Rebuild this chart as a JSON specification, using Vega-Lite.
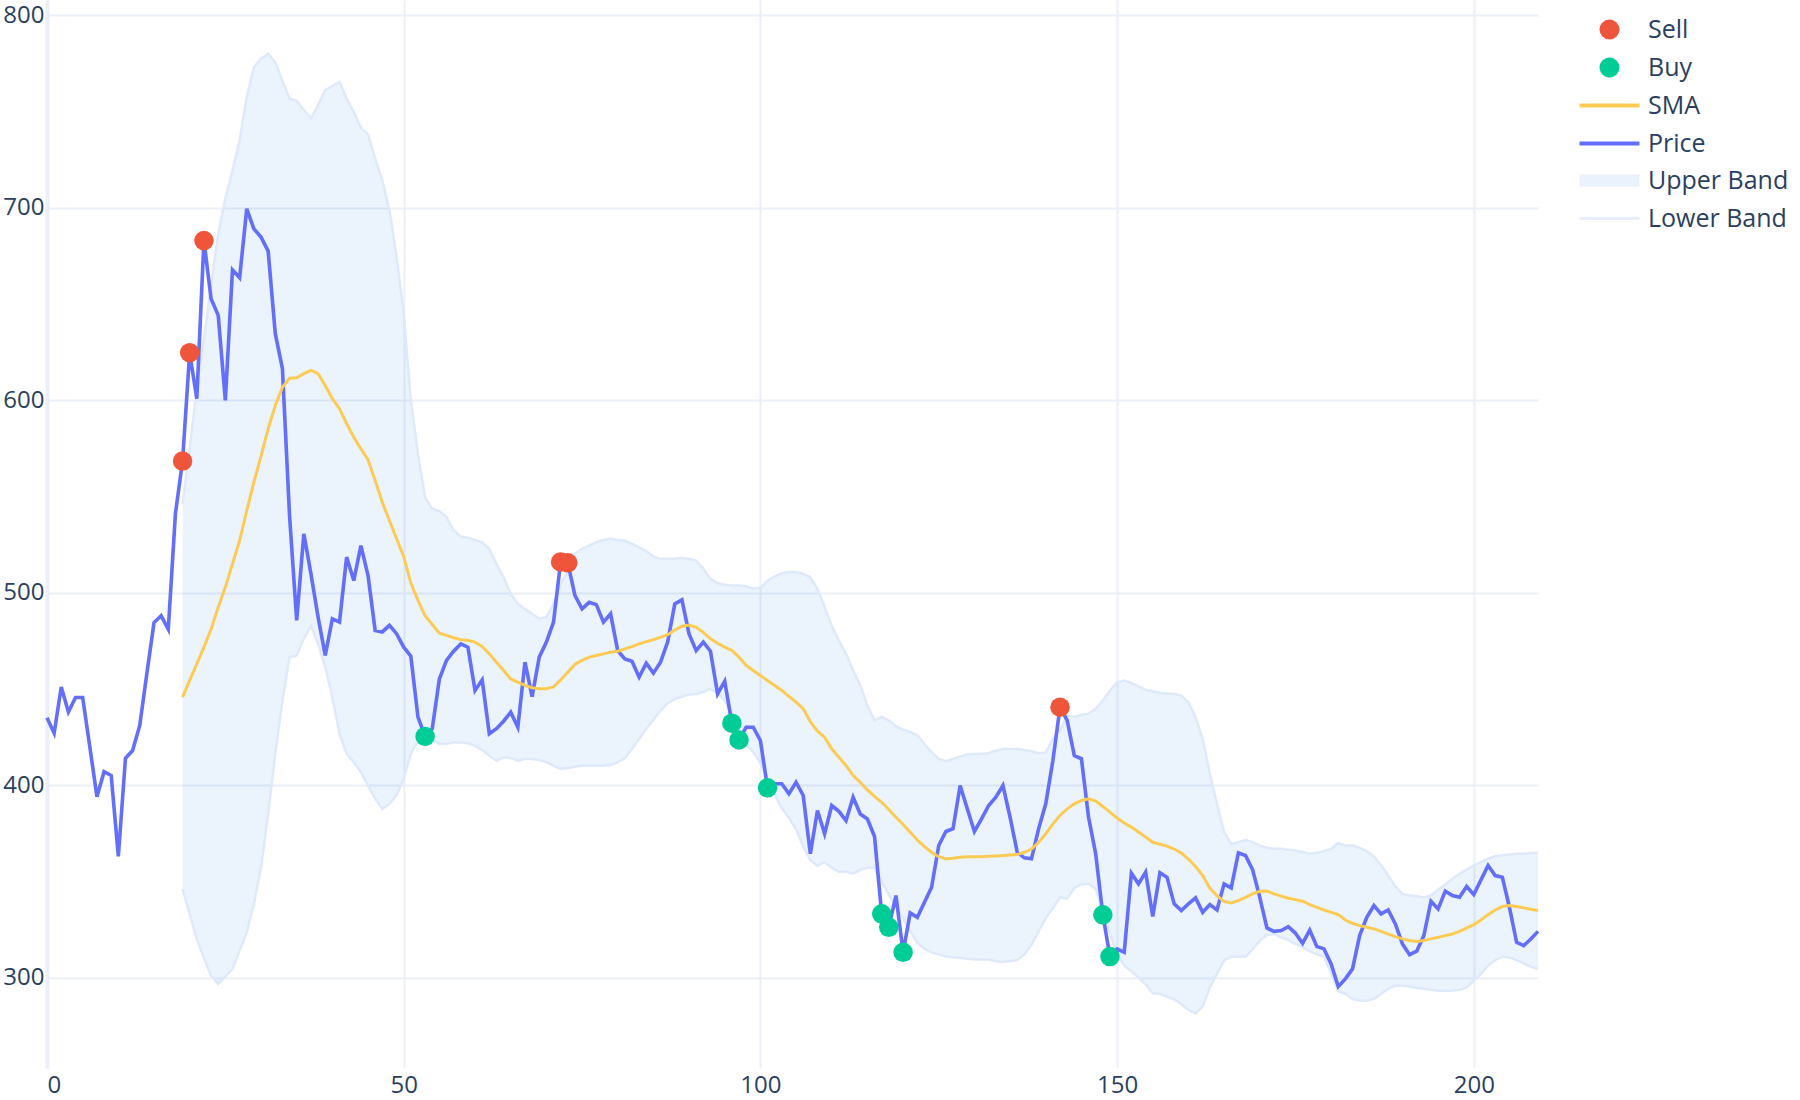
{
"$schema": "https://vega.github.io/schema/vega-lite/v6.json",
"width": 1491, "height": 1068,
"autosize": {"type": "none"},
"padding": {"left": 47, "top": 0, "right": 262, "bottom": 32},
"background": "white",
"config": {"view": {"stroke": null}, "font": "Open Sans",
 "axis": {"labelFont": "Open Sans", "labelFontSize": 24, "labelColor": "#2a3f5f", "gridColor": "#EBF0F8", "gridWidth": 2, "ticks": false, "title": null}},
"data": {"values": [
{"x":0,"price":435},{"x":1,"price":427},{"x":2,"price":451},{"x":3,"price":438},{"x":4,"price":445.5},{"x":5,"price":445.5},{"x":6,"price":420},{"x":7,"price":394},{"x":8,"price":407},{"x":9,"price":405},{"x":10,"price":363},{"x":11,"price":414},{"x":12,"price":418},{"x":13,"price":431},{"x":14,"price":458},{"x":15,"price":484.5},{"x":16,"price":488},{"x":17,"price":481},{"x":18,"price":541},
{"x":19,"price":568.4,"sma":445.7,"upper":546,"lower":346,"signal":"Sell"},
{"x":20,"price":624.7,"sma":454.4,"upper":575,"lower":333,"signal":"Sell"},
{"x":21,"price":600.8,"sma":463,"upper":606,"lower":320},
{"x":22,"price":683,"sma":471.7,"upper":632,"lower":310,"signal":"Sell"},
{"x":23,"price":652.8,"sma":481,"upper":660,"lower":301},
{"x":24,"price":644.1,"sma":492.5,"upper":686.5,"lower":296.7},
{"x":25,"price":599.9,"sma":502.9,"upper":704.7,"lower":300.5},
{"x":26,"price":667.8,"sma":515,"upper":719.4,"lower":304.5},
{"x":27,"price":663.7,"sma":527.1,"upper":735,"lower":314},
{"x":28,"price":699.5,"sma":542.7,"upper":757.5,"lower":323.6},
{"x":29,"price":689.1,"sma":557.4,"upper":773.1,"lower":338.3},
{"x":30,"price":684.8,"sma":571,"upper":777.5,"lower":357.3},
{"x":31,"price":677.5,"sma":585.2,"upper":780.1,"lower":385},
{"x":32,"price":634.6,"sma":597.3,"upper":775.7,"lower":416.3},
{"x":33,"price":616.4,"sma":606.8,"upper":766,"lower":444},
{"x":34,"price":540,"sma":611.5,"upper":756.7,"lower":466.5},
{"x":35,"price":485.6,"sma":611.7,"upper":755.6,"lower":467.4},
{"x":36,"price":530.6,"sma":613.8,"upper":750.8,"lower":476},
{"x":37,"price":509.8,"sma":615.5,"upper":746.5,"lower":482.9},
{"x":38,"price":487.3,"sma":613.8,"upper":753.4,"lower":473.4},
{"x":39,"price":467.4,"sma":607.7,"upper":761.2,"lower":461.3},
{"x":40,"price":486.4,"sma":600.8,"upper":763.3,"lower":445.7},
{"x":41,"price":484.7,"sma":595.6,"upper":765.5,"lower":426.7},
{"x":42,"price":518.5,"sma":587.8,"upper":756.7,"lower":416.3},
{"x":43,"price":506.3,"sma":580.8,"upper":749.8,"lower":411.9},
{"x":44,"price":524.5,"sma":574.8,"upper":741.6,"lower":406.7},
{"x":45,"price":508.9,"sma":569.1,"upper":738.2,"lower":399.8},
{"x":46,"price":480.4,"sma":558.3,"upper":725.5,"lower":392.9},
{"x":47,"price":479.6,"sma":547,"upper":714.3,"lower":387.7},
{"x":48,"price":483,"sma":537.5,"upper":698.7,"lower":390.3},
{"x":49,"price":478.7,"sma":528,"upper":674.5,"lower":394.7},
{"x":50,"price":471.7,"sma":518.8,"upper":645,"lower":403.3},
{"x":51,"price":467,"sma":505,"upper":600,"lower":416.3},
{"x":52,"price":435.3,"sma":496,"upper":572,"lower":423},
{"x":53,"price":425.3,"sma":488,"upper":549.5,"lower":426.9,"signal":"Buy"},
{"x":54,"price":429.3,"sma":483.5,"upper":543.6,"lower":423.5},
{"x":55,"price":455.2,"sma":479,"upper":542.4,"lower":421.4},
{"x":56,"price":464.8,"sma":477.8,"upper":539.3,"lower":421.4},
{"x":57,"price":469.6,"sma":476.6,"upper":532.3,"lower":422.2},
{"x":58,"price":473.4,"sma":475.6,"upper":529.2,"lower":422.2},
{"x":59,"price":471.7,"sma":475.2,"upper":528.5,"lower":421.7},
{"x":60,"price":449.2,"sma":474.3,"upper":527.4,"lower":420.5},
{"x":61,"price":454.7,"sma":472,"upper":526.2,"lower":418.2},
{"x":62,"price":426.7,"sma":468.2,"upper":522.8,"lower":415.3},
{"x":63,"price":429.3,"sma":463.9,"upper":515,"lower":412.7},
{"x":64,"price":433.2,"sma":459.6,"upper":508,"lower":414.4},
{"x":65,"price":437.9,"sma":455.2,"upper":499.4,"lower":414.1},
{"x":66,"price":430.1,"sma":453.5,"upper":494.2,"lower":412.7},
{"x":67,"price":463.9,"sma":451.8,"upper":491.6,"lower":413.6},
{"x":68,"price":446,"sma":450.6,"upper":489,"lower":413.6},
{"x":69,"price":466.5,"sma":450.1,"upper":486.5,"lower":413.1},
{"x":70,"price":474.3,"sma":450.1,"upper":487.3,"lower":411.9},
{"x":71,"price":484.7,"sma":451,"upper":494.2,"lower":410.1},
{"x":72,"price":516,"sma":454.7,"upper":504.6,"lower":408.4,"signal":"Sell"},
{"x":73,"price":515.5,"sma":458.7,"upper":511,"lower":408.9,"signal":"Sell"},
{"x":74,"price":498.6,"sma":462.7,"upper":520.2,"lower":409.6},
{"x":75,"price":491.6,"sma":464.8,"upper":522.8,"lower":410.1},
{"x":76,"price":495,"sma":466.5,"upper":524.5,"lower":410.1},
{"x":77,"price":493.8,"sma":467.4,"upper":526.2,"lower":410.1},
{"x":78,"price":484.7,"sma":468.2,"upper":527.4,"lower":410.1},
{"x":79,"price":489,"sma":469.1,"upper":528,"lower":410.5},
{"x":80,"price":469.9,"sma":469.6,"upper":527.4,"lower":411.9},
{"x":81,"price":465.6,"sma":470.8,"upper":527,"lower":414.1},
{"x":82,"price":464.4,"sma":472,"upper":525.4,"lower":418.8},
{"x":83,"price":456.1,"sma":473.4,"upper":523.6,"lower":424},
{"x":84,"price":463.4,"sma":474.6,"upper":521.6,"lower":429.2},
{"x":85,"price":458.2,"sma":475.6,"upper":518.8,"lower":433.9},
{"x":86,"price":463.9,"sma":476.8,"upper":517.6,"lower":438.7},
{"x":87,"price":474.3,"sma":478.2,"upper":517.6,"lower":442.5},
{"x":88,"price":494.2,"sma":480.6,"upper":517.6,"lower":444.8},
{"x":89,"price":496.3,"sma":482.6,"upper":518,"lower":446},
{"x":90,"price":478.6,"sma":483.2,"upper":517.6,"lower":447.1},
{"x":91,"price":469.9,"sma":482,"upper":516.7,"lower":447.4},
{"x":92,"price":474.3,"sma":479.4,"upper":512.4,"lower":448.3},
{"x":93,"price":469.6,"sma":476,"upper":507.2,"lower":450},
{"x":94,"price":447.4,"sma":473.7,"upper":505,"lower":447.8},
{"x":95,"price":454,"sma":471.7,"upper":504.1,"lower":444},
{"x":96,"price":432.2,"sma":470,"upper":503.8,"lower":436.2,"signal":"Buy"},
{"x":97,"price":423.5,"sma":466.5,"upper":503.8,"lower":429.2,"signal":"Buy"},
{"x":98,"price":430.1,"sma":462.2,"upper":503.3,"lower":421.1},
{"x":99,"price":430.1,"sma":459.6,"upper":502,"lower":417.2},
{"x":100,"price":423.2,"sma":457,"upper":502.5,"lower":411.5},
{"x":101,"price":398.6,"sma":454.4,"upper":506.3,"lower":402.5,"signal":"Buy"},
{"x":102,"price":400.7,"sma":451.8,"upper":508.4,"lower":395},
{"x":103,"price":400.7,"sma":449.2,"upper":510.1,"lower":388},
{"x":104,"price":395.5,"sma":446.1,"upper":510.7,"lower":383},
{"x":105,"price":401.5,"sma":443.1,"upper":510.7,"lower":377},
{"x":106,"price":394.6,"sma":439.7,"upper":509.8,"lower":368},
{"x":107,"price":364.3,"sma":433,"upper":508,"lower":361},
{"x":108,"price":386.8,"sma":428,"upper":502,"lower":358},
{"x":109,"price":374.7,"sma":424.9,"upper":492.5,"lower":360},
{"x":110,"price":389.4,"sma":418.9,"upper":482.9,"lower":357},
{"x":111,"price":386.4,"sma":414.5,"upper":475.2,"lower":355},
{"x":112,"price":381.6,"sma":410.2,"upper":468.2,"lower":355},
{"x":113,"price":393.7,"sma":405,"upper":459.6,"lower":354},
{"x":114,"price":385,"sma":401.5,"upper":451.8,"lower":356},
{"x":115,"price":382.4,"sma":397.5,"upper":441.4,"lower":357},
{"x":116,"price":373.3,"sma":394.1,"upper":433.6,"lower":357},
{"x":117,"price":333.1,"sma":391.1,"upper":435.4,"lower":350,"signal":"Buy"},
{"x":118,"price":326.1,"sma":387.3,"upper":433.6,"lower":343,"signal":"Buy"},
{"x":119,"price":342.6,"sma":383.3,"upper":430.5,"lower":337},
{"x":120,"price":313.1,"sma":379.5,"upper":428.8,"lower":331,"signal":"Buy"},
{"x":121,"price":333.6,"sma":375.5,"upper":427.6,"lower":324},
{"x":122,"price":331.3,"sma":371.5,"upper":425.9,"lower":318},
{"x":123,"price":339.1,"sma":368,"upper":421.4,"lower":315},
{"x":124,"price":346.9,"sma":365.1,"upper":417.1,"lower":313},
{"x":125,"price":368.6,"sma":362.8,"upper":413.6,"lower":312},
{"x":126,"price":375.9,"sma":361.6,"upper":412.4,"lower":311},
{"x":127,"price":377.3,"sma":362,"upper":413.6,"lower":310.5},
{"x":128,"price":399.8,"sma":362.5,"upper":414.8,"lower":310.3},
{"x":129,"price":387.7,"sma":362.8,"upper":415.9,"lower":309.7},
{"x":130,"price":375.9,"sma":362.8,"upper":416.2,"lower":309.4},
{"x":131,"price":382.5,"sma":362.8,"upper":416.2,"lower":309.4},
{"x":132,"price":389.4,"sma":363,"upper":416.7,"lower":309.3},
{"x":133,"price":393.7,"sma":363.2,"upper":417.9,"lower":308.5},
{"x":134,"price":399.8,"sma":363.4,"upper":418.8,"lower":308},
{"x":135,"price":383.3,"sma":363.7,"upper":418.8,"lower":308.6},
{"x":136,"price":365.1,"sma":363.9,"upper":418.8,"lower":309},
{"x":137,"price":362.2,"sma":365.1,"upper":418.3,"lower":312},
{"x":138,"price":361.7,"sma":366.8,"upper":417.6,"lower":317},
{"x":139,"price":377.3,"sma":370.3,"upper":416.6,"lower":324},
{"x":140,"price":390.3,"sma":374.7,"upper":417,"lower":331},
{"x":141,"price":412.8,"sma":379.9,"upper":424,"lower":336},
{"x":142,"price":440.5,"sma":384.2,"upper":428.4,"lower":341.7,"signal":"Sell"},
{"x":143,"price":433.6,"sma":387.7,"upper":436,"lower":341},
{"x":144,"price":415.4,"sma":390.3,"upper":435.4,"lower":346.5},
{"x":145,"price":413.7,"sma":392,"upper":436.6,"lower":348.4},
{"x":146,"price":383.3,"sma":392.9,"upper":437.1,"lower":348.7},
{"x":147,"price":364.3,"sma":391.7,"upper":439.7,"lower":346.1},
{"x":148,"price":332.6,"sma":388.9,"upper":444,"lower":333.8,"signal":"Buy"},
{"x":149,"price":310.9,"sma":386,"upper":449.2,"lower":322.8,"signal":"Buy"},
{"x":150,"price":314.9,"sma":382.9,"upper":453.5,"lower":312.3},
{"x":151,"price":313.1,"sma":380.3,"upper":454.4,"lower":306.2},
{"x":152,"price":354.2,"sma":378.2,"upper":453,"lower":303.4},
{"x":153,"price":348.7,"sma":375.6,"upper":451.3,"lower":299.9},
{"x":154,"price":354.8,"sma":373,"upper":449.5,"lower":296.5},
{"x":155,"price":331.7,"sma":370.3,"upper":448.8,"lower":291.8},
{"x":156,"price":354.5,"sma":369.3,"upper":448,"lower":291.5},
{"x":157,"price":352.1,"sma":368.3,"upper":447.6,"lower":290.1},
{"x":158,"price":338.3,"sma":366.8,"upper":447.4,"lower":288.7},
{"x":159,"price":334.8,"sma":364.7,"upper":446.5,"lower":286.3},
{"x":160,"price":338.3,"sma":361.6,"upper":443.1,"lower":283.2},
{"x":161,"price":341.4,"sma":357.7,"upper":435.3,"lower":281.4},
{"x":162,"price":333.9,"sma":353,"upper":424,"lower":285},
{"x":163,"price":337.9,"sma":346.4,"upper":405.9,"lower":294.9},
{"x":164,"price":335.1,"sma":342.6,"upper":390.3,"lower":301.8},
{"x":165,"price":348.7,"sma":339.5,"upper":375.5,"lower":309.1},
{"x":166,"price":346.6,"sma":338.8,"upper":369.4,"lower":310.8},
{"x":167,"price":364.8,"sma":340,"upper":370.3,"lower":310.8},
{"x":168,"price":363.4,"sma":341.7,"upper":371.5,"lower":310.8},
{"x":169,"price":356,"sma":343.5,"upper":370.3,"lower":314.8},
{"x":170,"price":341.7,"sma":344.9,"upper":368.6,"lower":319.1},
{"x":171,"price":325.8,"sma":344.9,"upper":367.4,"lower":322.2},
{"x":172,"price":324,"sma":343.5,"upper":366.9,"lower":322.6},
{"x":173,"price":324.4,"sma":342.3,"upper":366.9,"lower":320.9},
{"x":174,"price":326.4,"sma":341.2,"upper":366.4,"lower":319.5},
{"x":175,"price":323,"sma":340.5,"upper":366,"lower":317.4},
{"x":176,"price":317.8,"sma":339.7,"upper":365.2,"lower":315.7},
{"x":177,"price":324.7,"sma":337.9,"upper":364.3,"lower":313.6},
{"x":178,"price":316.1,"sma":336.5,"upper":364.8,"lower":312.2},
{"x":179,"price":314.9,"sma":335.1,"upper":365.7,"lower":310.8},
{"x":180,"price":307.1,"sma":333.9,"upper":366.9,"lower":302},
{"x":181,"price":295.3,"sma":332.7,"upper":370,"lower":293},
{"x":182,"price":299.3,"sma":329.9,"upper":368.6,"lower":291.5},
{"x":183,"price":304.5,"sma":328.2,"upper":368.6,"lower":288.9},
{"x":184,"price":321.8,"sma":327,"upper":367.4,"lower":288},
{"x":185,"price":331.3,"sma":326.1,"upper":365.7,"lower":288},
{"x":186,"price":337.4,"sma":325.3,"upper":362.9,"lower":288.9},
{"x":187,"price":333.1,"sma":324,"upper":358.3,"lower":291.5},
{"x":188,"price":335.1,"sma":322.6,"upper":353.1,"lower":294.1},
{"x":189,"price":327.9,"sma":321.3,"upper":347.4,"lower":295.8},
{"x":190,"price":317.5,"sma":320.1,"upper":343.5,"lower":295.8},
{"x":191,"price":311.9,"sma":319.2,"upper":342.6,"lower":295.3},
{"x":192,"price":313.7,"sma":318.8,"upper":342.3,"lower":294.6},
{"x":193,"price":321.8,"sma":319.2,"upper":341.8,"lower":294.1},
{"x":194,"price":339.7,"sma":320.1,"upper":342.6,"lower":293.6},
{"x":195,"price":335.7,"sma":320.9,"upper":345.6,"lower":293.2},
{"x":196,"price":344.9,"sma":321.8,"upper":348.3,"lower":293.2},
{"x":197,"price":342.6,"sma":322.6,"upper":351.3,"lower":293.2},
{"x":198,"price":341.7,"sma":324,"upper":353.9,"lower":293.6},
{"x":199,"price":347.3,"sma":325.8,"upper":356,"lower":294.9},
{"x":200,"price":343.1,"sma":327.5,"upper":358.3,"lower":298.4},
{"x":201,"price":350.7,"sma":329.9,"upper":360,"lower":301.8},
{"x":202,"price":358.2,"sma":332.7,"upper":361.8,"lower":306.2},
{"x":203,"price":353,"sma":335.1,"upper":363,"lower":309.1},
{"x":204,"price":352.1,"sma":337,"upper":363.5,"lower":310.8},
{"x":205,"price":336.5,"sma":337.4,"upper":364,"lower":310.5},
{"x":206,"price":318.3,"sma":336.9,"upper":364.3,"lower":309.1},
{"x":207,"price":316.6,"sma":336.2,"upper":364.3,"lower":307.4},
{"x":208,"price":320,"sma":335.5,"upper":364.7,"lower":305.6},
{"x":209,"price":324,"sma":334.8,"upper":364.8,"lower":304.5}
]},
"encoding": {"x": {"field": "x", "type": "quantitative", "scale": {"domain": [0, 209], "nice": false, "zero": false}, "axis": {"values": [0, 50, 100, 150, 200], "domain": false, "labelPadding": 5, "title": null, "grid": true}}},
"layer": [
{"mark": {"type": "area", "opacity": 0.08},
 "encoding": {
  "y": {"field": "upper", "type": "quantitative", "scale": {"domain": [253, 808], "nice": false, "zero": false}, "axis": {"values": [300, 400, 500, 600, 700, 800], "domain": true, "domainColor": "#EBF0F8", "domainWidth": 4, "labelPadding": 3, "title": null, "grid": true}},
  "y2": {"field": "lower"},
  "fill": {"datum": "Upper Band", "type": "nominal",
   "scale": {"domain": ["Upper Band"], "range": ["#0064E6"]},
   "legend": {"title": null, "orient": "none", "legendX": 1550, "legendY": 168, "padding": 0, "symbolType": "M-3,-0.6H3V0.6H-3Z", "symbolSize": 400, "symbolStrokeWidth": 0, "symbolOpacity": 0.085, "labelOffset": 26, "rowPadding": 12, "labelFontSize": 25, "labelColor": "#2a3f5f", "labelFont": "Open Sans", "labelLimit": 300}}
 }},
{"mark": {"type": "line", "strokeWidth": 2.5},
 "encoding": {
  "y": {"field": "upper", "type": "quantitative", "scale": {"domain": [253, 808], "nice": false, "zero": false}, "axis": {"values": [300, 400, 500, 600, 700, 800], "domain": true, "domainColor": "#EBF0F8", "domainWidth": 4, "labelPadding": 3, "title": null, "grid": true}},
  "color": {"value": "#DEE9FA"}
 }},
{"mark": {"type": "line", "strokeWidth": 2.5},
 "encoding": {
  "y": {"field": "lower", "type": "quantitative", "scale": {"domain": [253, 808], "nice": false, "zero": false}, "axis": {"values": [300, 400, 500, 600, 700, 800], "domain": true, "domainColor": "#EBF0F8", "domainWidth": 4, "labelPadding": 3, "title": null, "grid": true}},
  "color": {"value": "#DEE9FA"},
  "strokeDash": {"datum": "Lower Band", "type": "nominal",
   "scale": {"domain": ["Lower Band"], "range": [[1, 0]]},
   "legend": {"title": null, "orient": "none", "legendX": 1550, "legendY": 206, "padding": 0, "symbolType": "M-3,0L3,0", "symbolSize": 400, "symbolStrokeWidth": 3, "symbolStrokeColor": "#E8EEFA", "symbolOpacity": 1, "labelOffset": 26, "rowPadding": 12, "labelFontSize": 25, "labelColor": "#2a3f5f", "labelFont": "Open Sans", "labelLimit": 300}}
 }},
{"mark": {"type": "line", "strokeWidth": 3.6},
 "encoding": {
  "y": {"field": "price", "type": "quantitative", "scale": {"domain": [253, 808], "nice": false, "zero": false}, "axis": {"values": [300, 400, 500, 600, 700, 800], "domain": true, "domainColor": "#EBF0F8", "domainWidth": 4, "labelPadding": 3, "title": null, "grid": true}},
  "stroke": {"datum": "Price", "type": "nominal",
   "scale": {"domain": ["SMA", "Price"], "range": ["#FECB52", "#636EFA"]},
   "legend": {"title": null, "orient": "none", "legendX": 1550, "legendY": 93, "padding": 0, "symbolType": "M-3,0L3,0", "symbolSize": 400, "symbolStrokeWidth": 4, "symbolOpacity": 1, "labelOffset": 26, "rowPadding": 12, "labelFontSize": 25, "labelColor": "#2a3f5f", "labelFont": "Open Sans", "labelLimit": 300}}
 }},
{"mark": {"type": "line", "strokeWidth": 3},
 "encoding": {
  "y": {"field": "sma", "type": "quantitative", "scale": {"domain": [253, 808], "nice": false, "zero": false}, "axis": {"values": [300, 400, 500, 600, 700, 800], "domain": true, "domainColor": "#EBF0F8", "domainWidth": 4, "labelPadding": 3, "title": null, "grid": true}},
  "stroke": {"datum": "SMA", "type": "nominal",
   "scale": {"domain": ["SMA", "Price"], "range": ["#FECB52", "#636EFA"]},
   "legend": {"title": null, "orient": "none", "legendX": 1550, "legendY": 93, "padding": 0, "symbolType": "M-3,0L3,0", "symbolSize": 400, "symbolStrokeWidth": 4, "symbolOpacity": 1, "labelOffset": 26, "rowPadding": 12, "labelFontSize": 25, "labelColor": "#2a3f5f", "labelFont": "Open Sans", "labelLimit": 300}}
 }},
{"transform": [{"filter": "datum.signal != null"}],
 "mark": {"type": "point", "filled": true, "shape": "circle", "size": 380, "opacity": 1},
 "encoding": {
  "y": {"field": "price", "type": "quantitative", "scale": {"domain": [253, 808], "nice": false, "zero": false}, "axis": {"values": [300, 400, 500, 600, 700, 800], "domain": true, "domainColor": "#EBF0F8", "domainWidth": 4, "labelPadding": 3, "title": null, "grid": true}},
  "color": {"field": "signal", "type": "nominal",
   "scale": {"domain": ["Sell", "Buy"], "range": ["#EF553B", "#00CC96"]},
   "legend": {"title": null, "orient": "none", "legendX": 1550, "legendY": 17, "padding": 0, "symbolType": "circle", "symbolSize": 400, "symbolStrokeWidth": 0, "symbolOpacity": 1, "labelOffset": 26, "rowPadding": 12, "labelFontSize": 25, "labelColor": "#2a3f5f", "labelFont": "Open Sans", "labelLimit": 300}}
 }}
]
}
